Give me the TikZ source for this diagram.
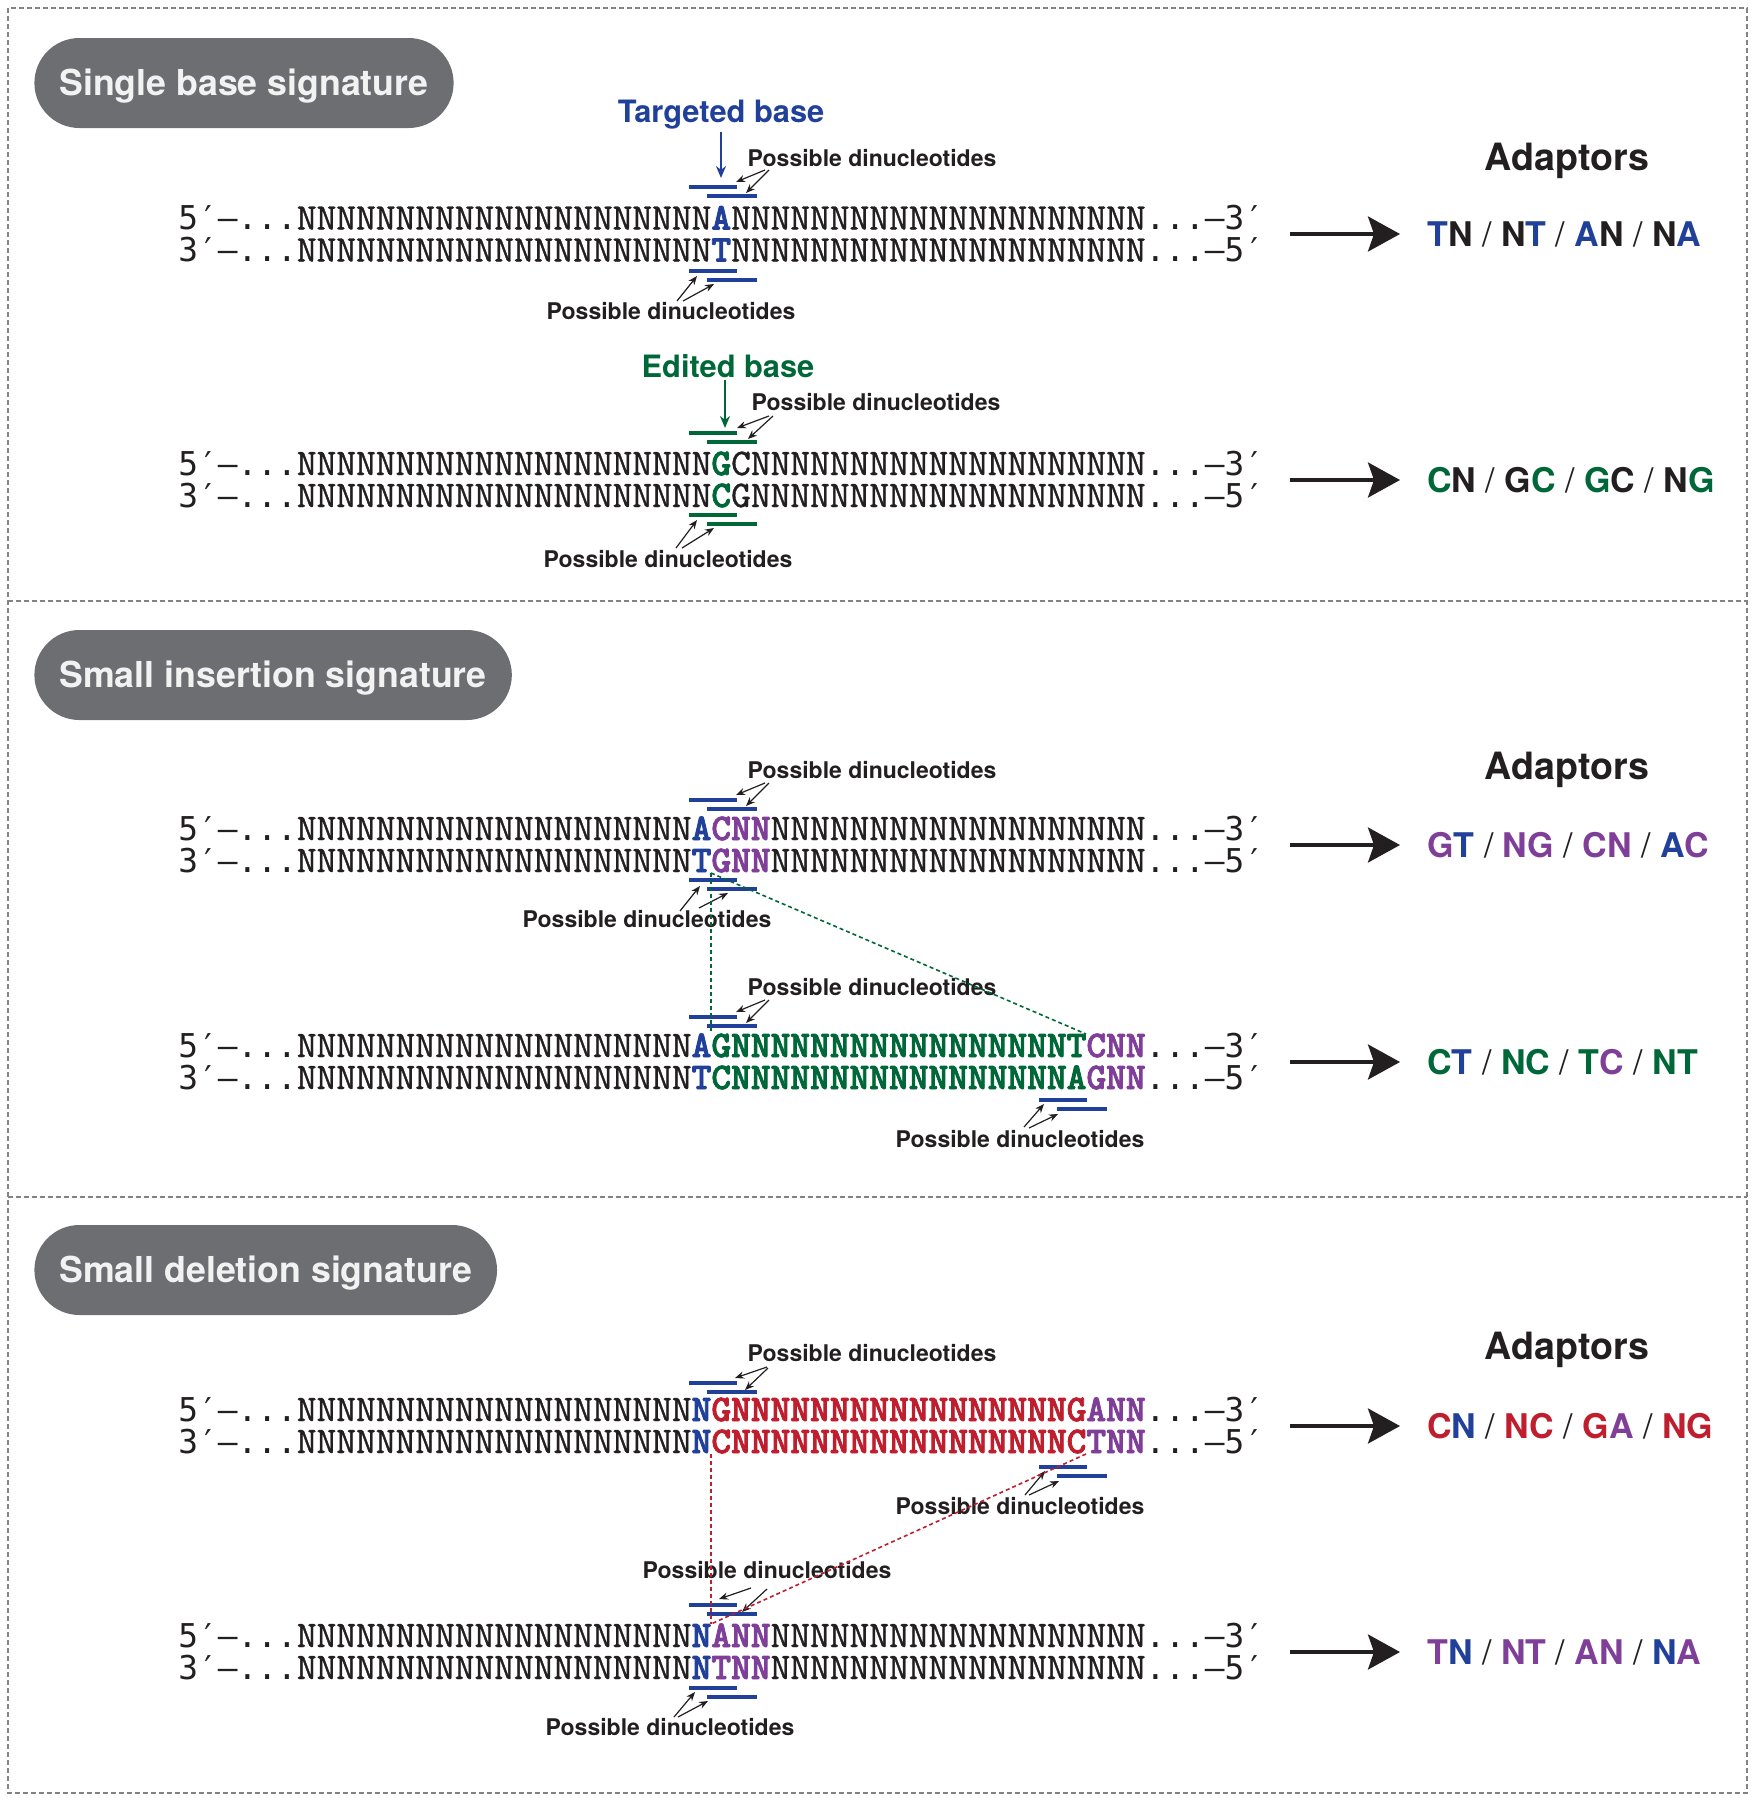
\documentclass[tikz,border=0pt]{standalone}
\usepackage{fontspec}
\usetikzlibrary{arrows.meta}
\newfontfamily\hel{TeX Gyre Heros}
\newfontfamily\dvm{DejaVu Sans Mono}
\newfontfamily\lmtr{lmmono10-regular}[Extension=.otf, FakeBold=1]
\newfontfamily\lmtb{lmmonolt10-bold}[Extension=.otf, FakeBold=2.2]
\definecolor{cblue}{RGB}{33,64,154}
\definecolor{cgreen}{RGB}{0,104,56}
\definecolor{cpurple}{RGB}{127,63,152}
\definecolor{cred}{RGB}{190,30,45}
\definecolor{cgray}{RGB}{109,110,113}
\definecolor{cblack}{RGB}{35,31,32}
\definecolor{cframe}{RGB}{130,130,130}
\newlength\cw \setlength\cw{9.87pt}
% one character in a fixed cell
\def\chs#1{\ifx\relax#1\else\makebox[\cw]{#1}\expandafter\chs\fi}
\newcommand\Nrep[1]{\ifnum#1>0 \makebox[\cw]{N}\expandafter\Nrep\expandafter{\number\numexpr#1-1\relax}\fi}
\newcommand\sqf{\lmtr\fontsize{18.82pt}{20pt}\selectfont}
\newcommand\pf[1]{{\dvm\fontsize{16.4pt}{20pt}\selectfont\chs #1\relax}}
\newcommand\qB[1]{{\color{cblue}\lmtb\fontsize{18.82pt}{20pt}\selectfont #1}}
\newcommand\qG[1]{{\color{cgreen}\lmtb\fontsize{18.82pt}{20pt}\selectfont #1}}
\newcommand\qP[1]{{\color{cpurple}\lmtb\fontsize{18.82pt}{20pt}\selectfont #1}}
\newcommand\qR[1]{{\color{cred}\lmtb\fontsize{18.82pt}{20pt}\selectfont #1}}
\newcommand\aB[1]{{\color{cblue}#1}}
\newcommand\aG[1]{{\color{cgreen}#1}}
\newcommand\aP[1]{{\color{cpurple}#1}}
\newcommand\aR[1]{{\color{cred}#1}}
\newcommand\slsh{{\mdseries/}}
\newcommand\twobars[5]{%
  \coordinate (#1p) at (#2,#4); \coordinate (#1q) at (#2+48,#4);
  \coordinate (#1r) at (#3,#4+9); \coordinate (#1s) at (#3+50,#4+9);
  \draw[dbar,draw=#5] (#1p) -- (#1q); \draw[dbar,draw=#5] (#1r) -- (#1s);}
\newcommand\twoarrows[9]{%
  \coordinate (#1a) at (#2,#3); \coordinate (#1b) at (#4,#5);
  \coordinate (#1c) at (#6,#7); \coordinate (#1d) at (#8,#9);
  \draw[parr] (#1a) -- (#1b); \draw[parr] (#1c) -- (#1d);}
\newcommand\bigarrow[2]{%
  \coordinate (#1s) at (1290,#2); \coordinate (#1e) at (1400,#2);
  \draw[bigarr] (#1s) -- (#1e);}
\tikzset{
  frame/.style={draw=cframe, line width=0.6pt, dash pattern=on 2.5pt off 1.5pt},
  pill/.style={fill=cgray, text=white!95!black, font=\hel\bfseries\fontsize{17.85pt}{20pt}\selectfont,
    rounded corners=22.5pt, minimum height=45pt, inner xsep=12.5pt, inner ysep=0pt,
    text height=12.85pt, text depth=0pt, anchor=west},
  seq/.style={anchor=base west, inner sep=0pt, text=cblack, font=\sqf, text height=11.5pt, text depth=0pt},
  lab/.style={font=\hel\bfseries\fontsize{11.5pt}{13pt}\selectfont, text=cblack, inner sep=0pt},
  dbar/.style={line width=2pt},
  parr/.style={draw=cblack, line width=0.6pt, -{Stealth[length=4.5pt,width=3.6pt]}},
  darr/.style={line width=1.2pt, -{Stealth[length=6pt,width=5pt]}},
  bigarr/.style={draw=cblack, line width=1.7pt, -{Stealth[length=16pt,width=17.5pt,inset=3pt]}},
  ad/.style={font=\hel\bfseries\fontsize{17pt}{20pt}\selectfont, text=cblack, anchor=west, inner sep=0pt},
  adlab/.style={font=\hel\bfseries\fontsize{18.8pt}{22pt}\selectfont, text=cblack, inner sep=0pt},
  tgt/.style={font=\hel\bfseries\fontsize{15.4pt}{18pt}\selectfont, inner sep=0pt},
  dotline/.style={line width=0.8pt, dash pattern=on 2pt off 1.5pt},
}
\begin{document}
\begin{tikzpicture}[x=0.5pt,y=-0.5pt]
\useasboundingbox (0,0) rectangle (1755,1800);
% frame
\draw[frame] (8,8) rectangle (1747,1793);
\draw[frame] (8,601) -- (1747,601);
\draw[frame] (8,1197) -- (1747,1197);
% pills
\node[pill] (p1) at (34,83) {Single base signature};
\node[pill] (p2) at (34,675) {Small insertion signature};
\node[pill] (p3) at (34,1270) {Small deletion signature};
% adaptor headers
\node[adlab] (h1) at (1567,161) {Adaptors};
\node[adlab] (h2) at (1567,770) {Adaptors};
\node[adlab] (h3) at (1567,1350) {Adaptors};

% ---------- Section 1a
\node[tgt, text=cblue] (tb) at (721,115) {Targeted base};
\coordinate (tbe) at (721,178);
\draw[darr, cblue] ([yshift=-1pt]tb.south) -- (tbe);
\node[seq] (s1t) at (178,229.5) {\pf{5′–...}\Nrep{21}\qB{\chs A\relax}\Nrep{21}\pf{...–3′}};
\node[seq] (s1b) at (178,261.5) {\pf{3′–...}\Nrep{21}\qB{\chs T\relax}\Nrep{21}\pf{...–5′}};
\twobars{k1}{689}{707}{187}{cblue}
\node[lab] (l1) at (872,158) {Possible dinucleotides};
\twoarrows{m1}{765}{170}{736}{182}{769}{170}{746}{193}
\twobars{k2}{689}{707}{271}{cblue}
\node[lab] (l2) at (671,311) {Possible dinucleotides};
\twoarrows{m2}{677}{301}{697}{276}{683}{301}{714}{284}
\bigarrow{b1}{234}
\node[ad] (a1) at (1427,234) {\aB{T}N \slsh{} N\aB{T} \slsh{} \aB{A}N \slsh{} N\aB{A}};

% ---------- Section 1b
\node[tgt, text=cgreen] (eb) at (728,366) {Edited base};
\coordinate (ebe) at (725,428);
\draw[darr, cgreen] ([yshift=-1pt]eb.south -| ebe) -- (ebe);
\node[seq] (s2t) at (178,475) {\pf{5′–...}\Nrep{21}\qG{\chs G\relax}\chs C\relax\Nrep{20}\pf{...–3′}};
\node[seq] (s2b) at (178,507) {\pf{3′–...}\Nrep{21}\qG{\chs C\relax}\chs G\relax\Nrep{20}\pf{...–5′}};
\twobars{k3}{689}{707}{433}{cgreen}
\node[lab] (l3) at (876,402) {Possible dinucleotides};
\twoarrows{m3}{769}{416}{737}{428}{773}{416}{748}{439}
\twobars{k4}{689}{707}{515}{cgreen}
\node[lab] (l4) at (668,559) {Possible dinucleotides};
\twoarrows{m4}{676}{548}{697}{520}{682}{548}{714}{528}
\bigarrow{b2}{480}
\node[ad] (a2) at (1427,480) {\aG{C}N \slsh{} G\aG{C} \slsh{} \aG{G}C \slsh{} N\aG{G}};

% ---------- Section 2a
\node[seq] (s3t) at (178,840) {\pf{5′–...}\Nrep{20}\qB{\chs A\relax}\qP{\chs CNN\relax}\Nrep{19}\pf{...–3′}};
\node[seq] (s3b) at (178,872) {\pf{3′–...}\Nrep{20}\qB{\chs T\relax}\qP{\chs GNN\relax}\Nrep{19}\pf{...–5′}};
\twobars{k5}{689}{707}{800}{cblue}
\node[lab] (l5) at (872,770) {Possible dinucleotides};
\twoarrows{m5}{765}{783}{736}{795}{769}{783}{746}{806}
\twobars{k6}{689}{707}{880}{cblue}
\node[lab] (l6) at (647,919) {Possible dinucleotides};
\twoarrows{m6}{680}{911}{700}{886}{699}{908}{728}{893}
\bigarrow{b3}{845}
\node[ad] (a3) at (1427,845) {\aP{G}\aB{T} \slsh{} \aP{NG} \slsh{} \aP{CN} \slsh{} \aB{A}\aP{C}};

% ---------- Section 2b
\node[seq] (s4t) at (178,1057) {\pf{5′–...}\Nrep{20}\qB{\chs A\relax}\qG{\chs G\relax\Nrep{17}\chs T\relax}\qP{\chs CNN\relax}\pf{...–3′}};
\node[seq] (s4b) at (178,1089) {\pf{3′–...}\Nrep{20}\qB{\chs T\relax}\qG{\chs C\relax\Nrep{17}\chs A\relax}\qP{\chs GNN\relax}\pf{...–5′}};
\twobars{k7}{689}{707}{1017}{cblue}
\node[lab] (l7) at (872,987) {Possible dinucleotides};
\twoarrows{m7}{765}{1000}{736}{1012}{769}{1000}{746}{1023}
\twobars{k8}{1039}{1057}{1100}{cblue}
\node[lab] (l8) at (1020,1139) {Possible dinucleotides};
\twoarrows{m8}{1024}{1127}{1044}{1104}{1029}{1128}{1058}{1114}
\bigarrow{b4}{1062}
\node[ad] (a4) at (1427,1062) {\aG{C}\aB{T} \slsh{} \aG{NC} \slsh{} \aG{T}\aP{C} \slsh{} \aG{NT}};

% green dotted links
\coordinate (g0) at (711,873);
\coordinate (g1) at (711,1034);
\coordinate (g2) at (1086,1034);
\draw[dotline, cgreen] (g0) -- (g1);
\draw[dotline, cgreen] (g0) -- (g2);

% ---------- Section 3a
\node[seq] (s5t) at (178,1421) {\pf{5′–...}\Nrep{20}\qB{\chs N\relax}\qR{\chs G\relax\Nrep{17}\chs G\relax}\qP{\chs ANN\relax}\pf{...–3′}};
\node[seq] (s5b) at (178,1453) {\pf{3′–...}\Nrep{20}\qB{\chs N\relax}\qR{\chs C\relax\Nrep{17}\chs C\relax}\qP{\chs TNN\relax}\pf{...–5′}};
\twobars{k9}{689}{707}{1383}{cblue}
\node[lab] (l9) at (872,1353) {Possible dinucleotides};
\twoarrows{m9}{767}{1367}{735}{1378}{768}{1368}{745}{1390}
\twobars{k10}{1039}{1057}{1467}{cblue}
\node[lab] (l10) at (1020,1506) {Possible dinucleotides};
\twoarrows{m10}{1025}{1495}{1045}{1471}{1029}{1495}{1059}{1481}
\bigarrow{b5}{1426}
\node[ad] (a5) at (1427,1426) {\aR{C}\aB{N} \slsh{} \aR{NC} \slsh{} \aR{G}\aP{A} \slsh{} \aR{NG}};

% ---------- Section 3b
\node[seq] (s6t) at (178,1647) {\pf{5′–...}\Nrep{20}\qB{\chs N\relax}\qP{\chs ANN\relax}\Nrep{19}\pf{...–3′}};
\node[seq] (s6b) at (178,1679) {\pf{3′–...}\Nrep{20}\qB{\chs N\relax}\qP{\chs TNN\relax}\Nrep{19}\pf{...–5′}};
\twobars{k11}{689}{707}{1605}{cblue}
\node[lab] (l11) at (767,1570) {Possible dinucleotides};
\twoarrows{m11}{751}{1588}{719}{1599}{767}{1589}{742}{1612}
\twobars{k12}{689}{707}{1688}{cblue}
\node[lab] (l12) at (670,1727) {Possible dinucleotides};
\twoarrows{m12}{674}{1717}{695}{1692}{678}{1717}{708}{1701}
\bigarrow{b6}{1652}
\node[ad] (a6) at (1427,1652) {\aP{T}\aB{N} \slsh{} \aP{NT} \slsh{} \aP{AN} \slsh{} \aB{N}\aP{A}};

% red dotted links
\coordinate (r0) at (1086,1454);
\coordinate (r1) at (711,1454);
\coordinate (r2) at (711,1624);
\draw[dotline, cred] (r1) -- (r2);
\draw[dotline, cred] (r0) -- (r2);
\end{tikzpicture}
\end{document}
